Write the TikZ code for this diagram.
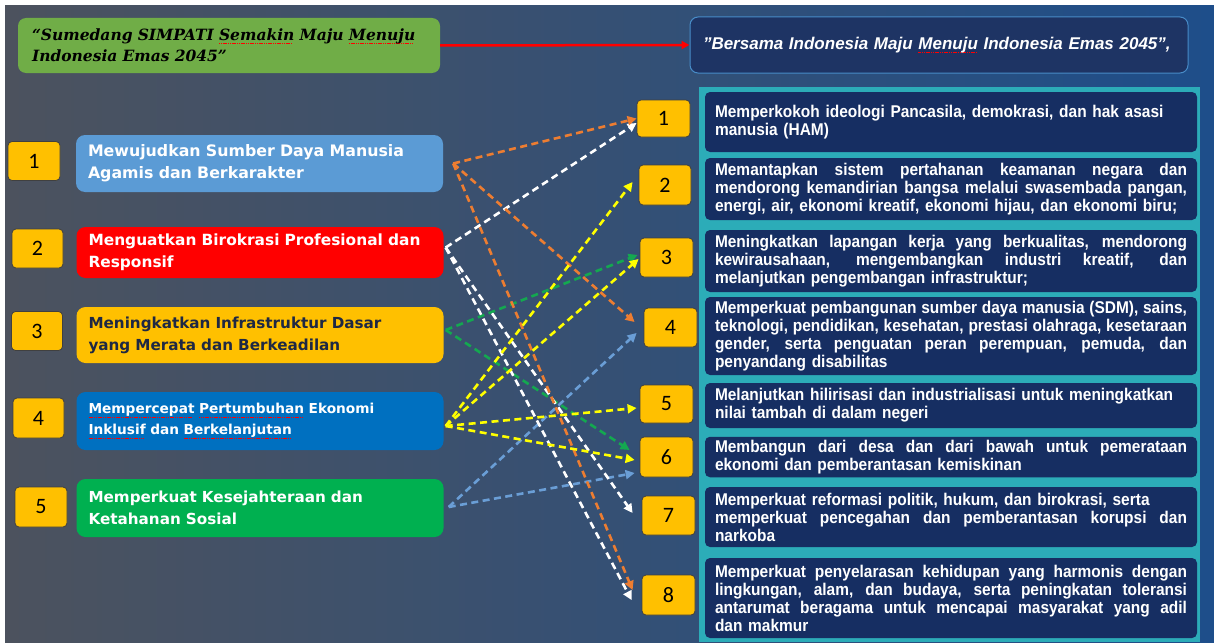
\documentclass[tikz,border=0pt]{standalone}
\usepackage{fontspec}
\usetikzlibrary{arrows.meta,calc}
\newfontfamily\slabfont{DejaVu Serif}
\newfontfamily\lblfont{DejaVu Sans}
\newfontfamily\descfont[FakeStretch=0.91]{Liberation Sans}
\newfontfamily\headfont{Liberation Sans}
\newfontfamily\numfont{Carlito}
\definecolor{bgL}{RGB}{76,82,94}
\definecolor{bgM}{RGB}{44,78,120}
\definecolor{bgR}{RGB}{30,78,138}
\definecolor{numY}{RGB}{255,192,0}
\definecolor{gbox}{RGB}{112,173,71}
\definecolor{cA}{RGB}{91,155,213}
\definecolor{cB}{RGB}{255,0,0}
\definecolor{cC}{RGB}{255,192,0}
\definecolor{cD}{RGB}{0,112,192}
\definecolor{cE}{RGB}{0,176,80}
\definecolor{darktxt}{RGB}{30,40,68}
\definecolor{navy}{RGB}{22,46,98}
\definecolor{topnavy}{RGB}{30,52,100}
\definecolor{topborder}{RGB}{72,140,200}
\definecolor{teal}{RGB}{44,172,184}
\definecolor{aOrange}{RGB}{237,125,49}
\definecolor{aYellow}{RGB}{255,255,0}
\definecolor{aGreen}{RGB}{20,168,80}
\definecolor{aBlue}{RGB}{106,158,214}
\newsavebox\splbox
\newcommand\spl[1]{\leavevmode\sbox\splbox{#1}\rlap{\raisebox{-3.5pt}{\textcolor{red}{\hbox to \wd\splbox{\leaders\hbox{\rule{1.2pt}{0.9pt}\hspace{0.6pt}}\hfill}}}}\usebox\splbox}
\newcommand\J[1]{\leavevmode\hbox to 472pt{\spaceskip=\fontdimen2\font plus 1fil\relax #1}}
\newcommand\NL[1]{\mbox{#1}}
\begin{document}
\begin{tikzpicture}[x=1pt,y=-1pt,
  numbox/.style={draw=black!75, fill=numY, rounded corners=4pt, line width=0.8pt,
    minimum width=52pt, minimum height=39pt, inner sep=0pt,
    font=\numfont\fontsize{22}{22}\selectfont, text=black},
  lbl/.style={rounded corners=9pt, minimum width=367pt, inner xsep=12pt,
    text width=343pt, align=left, text=white},
  desc/.style={fill=navy, rounded corners=5pt, minimum width=492pt, inner xsep=10pt,
    text width=472pt, align=left, text=white,
    font=\descfont\bfseries\fontsize{17}{18}\selectfont},
  conn/.style={dash pattern=on 7pt off 4.5pt, line width=2.6pt,
    -{Triangle[length=9pt,width=9pt]}}]
\useasboundingbox (0,0) rectangle (1214,642);
\fill[white] (0,0) rectangle (1214,642);
\shade[left color=bgL, middle color=bgM, right color=bgR] (5,6) rectangle (1214,642);
\fill[teal] (699,87) rectangle (1200,642);

% header boxes
\node[fill=gbox, rounded corners=8pt, minimum width=422pt, minimum height=55pt,
  inner xsep=14pt, text width=394pt, align=left, text=black,
  font=\slabfont\bfseries\itshape\fontsize{15.5}{21}\selectfont] (G) at (229,45.5)
  {“Sumedang SIMPATI \spl{Semakin} Maju \spl{Menuju}\\Indonesia Emas 2045”};
\node[fill=topnavy, draw=topborder, line width=1pt, rounded corners=8pt,
  minimum width=498pt, minimum height=56pt, inner xsep=13pt, text width=472pt,
  align=left, text=white, font=\headfont\bfseries\itshape\fontsize{17}{20}\selectfont]
  (T) at (939,45) {”Bersama Indonesia Maju \spl{Menuju} Indonesia Emas 2045”,};
\draw[red, line width=2.5pt, -{Triangle[length=8pt,width=8pt]}] (G.east) -- (T.west);

% left column
\node[numbox] (N1) at (34,161) {1};
\node[numbox, minimum width=51pt] (N2) at (37.5,248.5) {2};
\node[numbox, minimum width=51pt] (N3) at (37,331) {3};
\node[numbox, minimum width=51pt, minimum height=40pt] (N4) at (38.5,418) {4};
\node[numbox, minimum height=40pt] (N5) at (41,507) {5};

\node[lbl, fill=cA, minimum height=57pt, font=\lblfont\bfseries\fontsize{15.8}{22}\selectfont]
  (L1) at (259.5,163.5) {Mewujudkan Sumber Daya Manusia\\Agamis dan Berkarakter};
\node[lbl, fill=cB, minimum height=51pt, font=\lblfont\bfseries\fontsize{15.4}{22}\selectfont]
  (L2) at (260,252.5) {\spl{Menguatkan} \spl{Birokrasi} Profesional dan\\\spl{Responsif}};
\node[lbl, fill=cC, minimum height=56pt, text=darktxt, font=\lblfont\bfseries\fontsize{15.2}{22}\selectfont]
  (L3) at (260,335) {Meningkatkan Infrastruktur Dasar\\yang Merata dan Berkeadilan};
\node[lbl, fill=cD, minimum height=58pt, font=\lblfont\bfseries\fontsize{13.7}{21}\selectfont]
  (L4) at (260,421) {\spl{Mempercepat} \spl{Pertumbuhan} Ekonomi\\\spl{Inklusif} dan \spl{Berkelanjutan}};
\node[lbl, fill=cE, minimum height=58pt, font=\lblfont\bfseries\fontsize{15.2}{22}\selectfont]
  (L5) at (260,508) {Memperkuat Kesejahteraan dan\\Ketahanan Sosial};

% right descriptions
\node[desc, minimum height=60pt] (D1) at (951,122)
  {\NL{Memperkokoh ideologi Pancasila, demokrasi, dan hak asasi}\\manusia (HAM)};
\node[desc, minimum height=62pt] (D2) at (951,189)
  {\J{Memantapkan sistem pertahanan keamanan negara dan}\\
   \J{mendorong kemandirian bangsa melalui swasembada pangan,}\\
   \NL{energi, air, ekonomi kreatif, ekonomi hijau, dan ekonomi biru;}};
\node[desc, minimum height=62pt] (D3) at (951,261)
  {\J{Meningkatkan lapangan kerja yang berkualitas, mendorong}\\
   \J{kewirausahaan, mengembangkan industri kreatif, dan}\\
   melanjutkan pengembangan infrastruktur;};
\node[desc, minimum height=78pt] (D4) at (951,336)
  {\J{Memperkuat pembangunan sumber daya manusia (SDM), sains,}\\
   \J{teknologi, pendidikan, kesehatan, prestasi olahraga, kesetaraan}\\
   \J{gender, serta penguatan peran perempuan, pemuda, dan}\\
   penyandang disabilitas};
\node[desc, minimum height=45pt] (D5) at (951,405.5)
  {\NL{Melanjutkan hilirisasi dan industrialisasi untuk meningkatkan}\\nilai tambah di dalam negeri};
\node[desc, minimum height=40pt] (D6) at (951,457)
  {\J{Membangun dari desa dan dari bawah untuk pemerataan}\\
   ekonomi dan pemberantasan kemiskinan};
\node[desc, minimum height=60pt] (D7) at (951,517)
  {\NL{Memperkuat reformasi politik, hukum, dan birokrasi, serta}\\
   \J{memperkuat pencegahan dan pemberantasan korupsi dan}\\
   narkoba};
\node[desc, minimum height=80pt] (D8) at (951,598)
  {\J{Memperkuat penyelarasan kehidupan yang harmonis dengan}\\
   \J{lingkungan, alam, dan budaya, serta peningkatan toleransi}\\
   \J{antarumat beragama untuk mencapai masyarakat yang adil}\\
   dan makmur};

% right numbers
\node[numbox, minimum width=53pt, minimum height=37pt] (R1) at (663.5,118.5) {1};
\node[numbox, minimum height=40pt] (R2) at (665,185) {2};
\node[numbox, minimum width=53pt] (R3) at (666.5,257.5) {3};
\node[numbox, minimum width=53pt] (R4) at (670.5,327.5) {4};
\node[numbox, minimum width=53pt, minimum height=38pt] (R5) at (666.5,404) {5};
\node[numbox, minimum width=53pt, minimum height=40pt] (R6) at (666.5,457) {6};
\node[numbox, minimum width=53pt] (R7) at (668.5,515.5) {7};
\node[numbox, minimum width=53pt, minimum height=40pt] (R8) at (668.5,595) {8};

% connector start points
\coordinate (s1) at ($(L1.east)+(10,0)$);
\coordinate (s2) at ($(L2.east)+(2,-5)$);
\coordinate (s3) at ($(L3.east)+(2,-5)$);
\coordinate (s4) at ($(L4.east)+(2,5)$);
\coordinate (s5) at ($(L5.east)+(5,-1)$);

% connectors
\draw[conn, aBlue] (s5) -- ($(R4.west)+(-7,5.5)$);
\draw[conn, aBlue] (s5) -- ($(R6.west)+(-5,16)$);
\draw[conn, aGreen] (s3) -- ($(R3.west)+(-2,-2.5)$);
\draw[conn, aGreen] (s3) -- ($(R6.west)+(-10,-7)$);
\draw[conn, white] (s2) -- ($(R1.west)+(0,4.5)$);
\draw[conn, white] (s2) -- ($(R7.west)+(-9,-2.5)$);
\draw[conn, white] (s2) -- ($(R8.west)+(-10,5)$);
\draw[conn, aOrange] (s1) -- (R1.west);
\draw[conn, aOrange] (s1) -- ($(R4.west)+(-9,-5.5)$);
\draw[conn, aOrange] (s1) -- ($(R8.west)+(-9,-5)$);
\draw[conn, aYellow] (s4) -- ($(R2.west)+(-6,-3)$);
\draw[conn, aYellow] (s4) -- ($(R3.west)+(-1,1.5)$);
\draw[conn, aYellow] (s4) -- ($(R5.west)+(-3,4)$);
\draw[conn, aYellow] (s4) -- ($(R6.west)+(-5,3)$);
\end{tikzpicture}
\end{document}
